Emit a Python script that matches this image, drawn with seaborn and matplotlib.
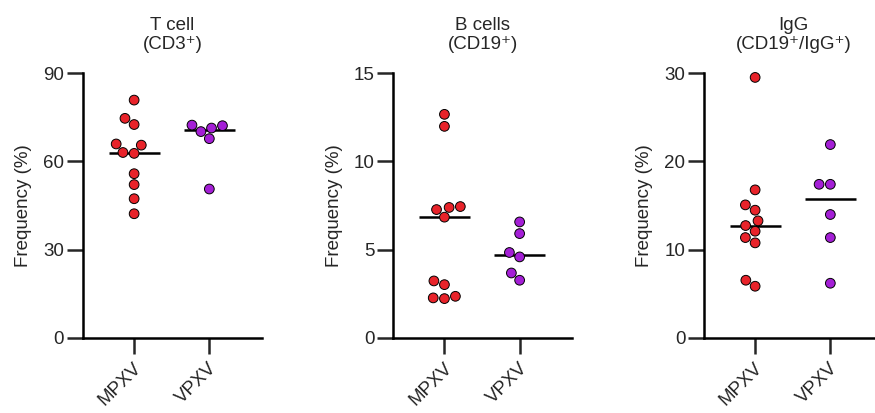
import numpy as np
import pandas as pd
import matplotlib
matplotlib.use("Agg")
import matplotlib.pyplot as plt
import matplotlib.transforms as mtransforms
import seaborn as sns

sns.set_style("white")
plt.rcParams['font.family'] = ['Liberation Sans', 'DejaVu Sans']

groups = ["MPXV", "VPXV"]
titles = ["T cell\n(CD3⁺)", "B cells\n(CD19⁺)", "IgG\n(CD19⁺/IgG⁺)"]

tcell_mpxv = [80.8, 74.6, 72.5, 65.5, 65.9, 62.7, 63.0, 55.8, 52.1, 47.3, 42.2]
tcell_vpxv = [72.3, 70.1, 71.3, 72.1, 67.7, 50.6]
bcell_mpxv = [12.66, 11.98, 7.27, 7.39, 7.44, 6.84, 3.23, 3.02, 2.36, 2.23, 2.27]
bcell_vpxv = [6.57, 5.91, 4.84, 4.59, 3.68, 3.27]
igg_mpxv = [29.5, 16.77, 15.07, 14.47, 13.26, 12.73, 12.09, 11.37, 10.77, 6.54, 5.86]
igg_vpxv = [21.9, 17.4, 17.4, 13.98, 11.37, 6.2]

yticks = [[0, 30, 60, 90], [0, 5, 10, 15], [0, 10, 20, 30]]
colors = {"MPXV": "#E8232A", "VPXV": "#A41FD6"}

panels = [(tcell_mpxv, tcell_vpxv), (bcell_mpxv, bcell_vpxv), (igg_mpxv, igg_vpxv)]

W, H = 875, 413
fig = plt.figure(figsize=(W / 100, H / 100), dpi=100)

lefts = [83, 393.3, 704]
xl = (-0.68, 1.70)
width_px = (xl[1] - xl[0]) * 75.2
bottom = 1 - 338 / H
height = 265 / H
FS = 13.5
LW = 1.8

for i, (mp, vp) in enumerate(panels):
    ax = fig.add_axes([lefts[i] / W, bottom, width_px / W, height])
    df = pd.DataFrame({
        "group": ["MPXV"] * len(mp) + ["VPXV"] * len(vp),
        "value": mp + vp,
    })
    sns.swarmplot(data=df, x="group", y="value", hue="group", order=groups,
                  palette=colors, size=7.0, edgecolor="black", linewidth=0.7,
                  legend=False, ax=ax, clip_on=False, zorder=3)
    for j, g in enumerate(groups):
        med = np.median(df.loc[df.group == g, "value"])
        ax.hlines(med, j - 0.34, j + 0.34, color="black", lw=LW, zorder=2)
    ax.set_xlim(*xl)
    ax.set_ylim(yticks[i][0], yticks[i][-1])
    ax.set_yticks(yticks[i])
    ax.set_xticks([0, 1])
    ax.tick_params(axis="y", labelsize=FS, length=11.5, width=LW, direction="out",
                   left=True, pad=2)
    ax.tick_params(axis="x", length=11.5, width=LW, direction="out", bottom=True, pad=4)
    ax.set_xticklabels(groups, rotation=45, ha="right", va="top",
                       rotation_mode="anchor", fontsize=FS)
    off = mtransforms.ScaledTranslation(-1 / 100, 0, fig.dpi_scale_trans)
    for lab in ax.get_xticklabels():
        lab.set_transform(lab.get_transform() + off)
    for s in ["top", "right"]:
        ax.spines[s].set_visible(False)
    for s in ["left", "bottom"]:
        ax.spines[s].set_linewidth(LW)
        ax.spines[s].set_color("black")
    ax.set_xlabel("")
    ax.set_ylabel("Frequency (%)", fontsize=FS, labelpad=8)
    ax.set_title(titles[i], fontsize=FS, pad=17, linespacing=1.15)
    ax.patch.set_alpha(0)

fig.savefig("out.png", dpi=100)
